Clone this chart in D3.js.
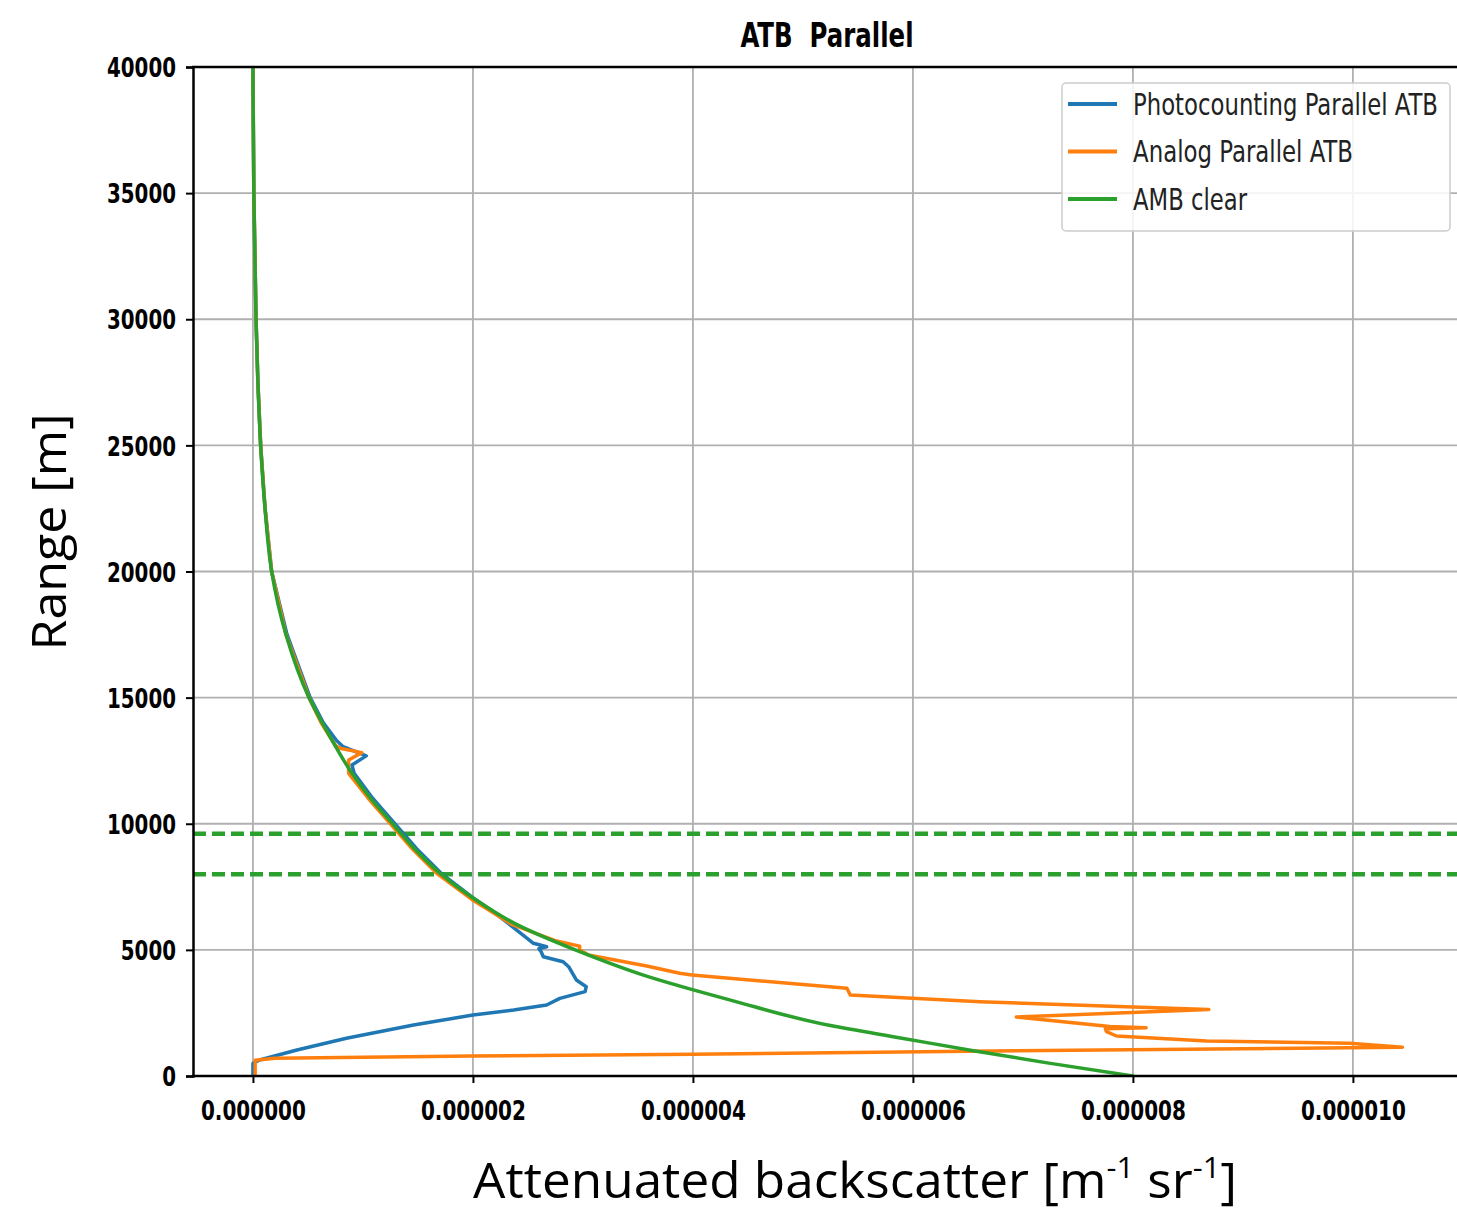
<!DOCTYPE html>
<html>
<head>
<meta charset="utf-8">
<script src="https://cdn.jsdelivr.net/npm/d3@7"></script>
<style>
  body { margin: 0; background: #fff; }
  svg { display: block; }
</style>
</head>
<body>
<div id="chart"></div>
<script>
// values are in units of 1e-6 m-1 sr-1, ranges in metres
const xTicks = [0, 2, 4, 6, 8, 10];
const yTicks = [0, 5000, 10000, 15000, 20000, 25000, 30000, 35000, 40000];
const cloudLayers = [8000, 9600];

const ambRange = [0, 500, 1000, 1500, 2000, 3000, 4000, 5000, 6000, 7000, 8000, 9000, 10000, 11000, 12000, 13000, 14000, 15000, 17500, 20000, 22500, 25000, 27500, 30000, 35000, 40000];
const ambValue = [8.0, 7.25, 6.55, 5.9, 5.25, 4.35, 3.55, 2.93, 2.40, 2.02, 1.71, 1.47, 1.27, 1.07, 0.90, 0.76, 0.63, 0.51, 0.30, 0.17, 0.11, 0.07, 0.045, 0.028, 0.008, 0.0];

const pcRange = [0, 500, 634, 1031, 1494, 2022, 2418, 2617, 2815, 3079, 3343, 3541, 3806, 4333, 4531, 4730, 4928, 5050, 5126, 5261, 5600, 6400, 7100, 8000, 9000, 10000, 11000, 12000, 12330, 12690, 13055, 13300, 14000, 15000, 17500, 20000, 22500, 25000, 27500, 30000, 35000, 40000];
const pcValue = [0.0, 0.0, 0.06, 0.40, 0.85, 1.46, 2.00, 2.37, 2.67, 2.79, 3.02, 3.03, 2.94, 2.87, 2.82, 2.64, 2.62, 2.60, 2.67, 2.55, 2.45, 2.22, 1.99, 1.72, 1.49, 1.29, 1.09, 0.92, 0.90, 1.03, 0.82, 0.76, 0.64, 0.52, 0.31, 0.17, 0.11, 0.07, 0.045, 0.028, 0.008, 0.0];

const anRange = [0, 620, 700, 790, 860, 980, 1080, 1138, 1296, 1388, 1586, 1757, 1870, 1917, 1960, 2340, 2640, 2740, 2946, 3211, 3477, 4004, 4071, 4361, 4800, 5000, 5150, 5350, 6000, 7000, 8000, 9000, 10000, 11000, 12000, 12527, 12820, 12990, 13100, 14000, 15000, 17500, 20000, 22500, 25000, 27500, 30000, 35000, 40000];
const anValue = [0.02, 0.02, 0.2, 2.0, 4.0, 6.5, 9.0, 10.45, 9.97, 8.67, 7.85, 7.76, 7.75, 8.12, 7.79, 6.94, 8.69, 8.0, 6.61, 5.43, 5.40, 3.99, 3.88, 3.58, 3.05, 2.97, 2.97, 2.76, 2.36, 1.99, 1.68, 1.45, 1.25, 1.05, 0.87, 0.87, 0.99, 0.79, 0.75, 0.62, 0.51, 0.30, 0.17, 0.11, 0.07, 0.045, 0.028, 0.008, 0.0];

const seriesNames = ["Photocounting Parallel ATB", "Analog Parallel ATB", "AMB clear"];
const seriesColors = ["#1f77b4", "#ff7f0e", "#2ca02c"];

const W = 1457, H = 1209;
const svg = d3.select("#chart").append("svg").attr("width", W).attr("height", H);

const x = d3.scaleLinear().domain([-0.545e-6, 11.11e-6]).range([193, 1475]);
const y = d3.scaleLinear().domain([0, 40000]).range([1076, 67]);

const tickFont = "'DejaVu Sans Condensed', 'DejaVu Sans', sans-serif";

svg.append("defs").append("clipPath").attr("id", "plot")
  .append("rect").attr("x", 193).attr("y", 67).attr("width", 1300).attr("height", 1009);

// grid
const grid = svg.append("g").attr("stroke", "#b0b0b0").attr("stroke-width", 1.8);
grid.selectAll(".gx").data(xTicks).join("line")
  .attr("x1", d => x(d * 1e-6)).attr("x2", d => x(d * 1e-6))
  .attr("y1", y(40000)).attr("y2", y(0));
grid.selectAll(".gy").data(yTicks).join("line")
  .attr("x1", 193).attr("x2", W)
  .attr("y1", d => y(d)).attr("y2", d => y(d));

// cloud layer markers
svg.append("g").selectAll("line").data(cloudLayers).join("line")
  .attr("x1", 193).attr("x2", W)
  .attr("y1", d => y(d)).attr("y2", d => y(d))
  .attr("stroke", "#2ca02c").attr("stroke-width", 4.5)
  .attr("stroke-dasharray", "13,6");

// curves
const toPts = (r, v) => r.map((d, i) => [v[i] * 1e-6, d]);
const lineGen = d3.line().x(d => x(d[0])).y(d => y(d[1]));
const smooth = d3.line().x(d => x(d[0])).y(d => y(d[1])).curve(d3.curveMonotoneY);
const plot = svg.append("g").attr("clip-path", "url(#plot)")
  .attr("fill", "none").attr("stroke-width", 3.5).attr("stroke-linejoin", "round").attr("stroke-linecap", "round");
plot.append("path").attr("d", lineGen(toPts(pcRange, pcValue))).attr("stroke", seriesColors[0]);
plot.append("path").attr("d", lineGen(toPts(anRange, anValue))).attr("stroke", seriesColors[1]);
plot.append("path").attr("d", smooth(toPts(ambRange, ambValue))).attr("stroke", seriesColors[2]);

// axes
const yAxis = svg.append("g").attr("transform", "translate(193,0)")
  .call(d3.axisLeft(y).tickValues(yTicks).tickSize(7).tickFormat(d3.format("d")));
yAxis.select(".domain").attr("stroke", "#000").attr("stroke-width", 2.5);
yAxis.selectAll(".tick line").attr("stroke", "#000").attr("stroke-width", 2);
yAxis.selectAll(".tick text")
  .attr("x", -17).attr("dy", "0.36em")
  .attr("font-family", tickFont).attr("font-weight", "bold").attr("font-size", 27).attr("fill", "#000")
  .attr("textLength", function() { return this.textContent.length * 13.8; })
  .attr("lengthAdjust", "spacingAndGlyphs");

const xAxis = svg.append("g").attr("transform", "translate(0,1076)")
  .call(d3.axisBottom(x).tickValues(xTicks.map(d => d * 1e-6)).tickSize(7).tickFormat(d3.format(".6f")));
xAxis.select(".domain").remove();
xAxis.selectAll(".tick line").attr("stroke", "#000").attr("stroke-width", 2);
xAxis.selectAll(".tick text")
  .attr("y", 34).attr("dy", "0.36em")
  .attr("font-family", tickFont).attr("font-weight", "bold").attr("font-size", 27).attr("fill", "#000")
  .attr("textLength", 105).attr("lengthAdjust", "spacingAndGlyphs");

// spines
svg.append("line").attr("x1", 192).attr("x2", W).attr("y1", 1076).attr("y2", 1076)
  .attr("stroke", "#000").attr("stroke-width", 2.5);
svg.append("line").attr("x1", 192).attr("x2", W).attr("y1", 67).attr("y2", 67)
  .attr("stroke", "#000").attr("stroke-width", 2.5);

// title
svg.append("text").attr("x", 827).attr("y", 47).attr("text-anchor", "middle")
  .style("white-space", "pre")
  .attr("font-family", tickFont).attr("font-weight", "bold").attr("font-size", 33)
  .attr("textLength", 173).attr("lengthAdjust", "spacingAndGlyphs")
  .text("ATB  Parallel");

// legend
const leg = svg.append("g");
leg.append("rect").attr("x", 1062).attr("y", 83).attr("width", 388).attr("height", 148)
  .attr("rx", 4).attr("fill", "#fff").attr("fill-opacity", 0.85).attr("stroke", "#cccccc").attr("stroke-width", 1.5);
const legW = [305, 220, 114];
seriesNames.forEach((name, i) => {
  const ly = 104 + i * 47.5;
  leg.append("line").attr("x1", 1068).attr("x2", 1117).attr("y1", ly).attr("y2", ly)
    .attr("stroke", seriesColors[i]).attr("stroke-width", 4);
  leg.append("text").attr("x", 1133).attr("y", ly).attr("dy", "0.36em")
    .attr("font-family", tickFont).attr("font-size", 30).attr("fill", "#222")
    .attr("textLength", legW[i]).attr("lengthAdjust", "spacingAndGlyphs")
    .text(name);
});

// axis labels
const labelFont = "'Open Sans', 'Noto Sans', sans-serif";
svg.append("text").attr("transform", "translate(66,532) rotate(-90)")
  .attr("text-anchor", "middle").attr("font-family", labelFont).attr("font-size", 48).attr("fill", "#000")
  .attr("textLength", 237).attr("lengthAdjust", "spacingAndGlyphs")
  .text("Range [m]");

const xl = svg.append("text").attr("x", 473).attr("y", 1198)
  .attr("font-family", labelFont).attr("font-size", 50).attr("fill", "#000")
  .attr("textLength", 764).attr("lengthAdjust", "spacingAndGlyphs");
xl.append("tspan").text("Attenuated backscatter [m");
xl.append("tspan").attr("font-size", 30).attr("dy", -20).text("-1");
xl.append("tspan").attr("font-size", 50).attr("dy", 20).text(" sr");
xl.append("tspan").attr("font-size", 30).attr("dy", -20).text("-1");
xl.append("tspan").attr("font-size", 50).attr("dy", 20).text("]");
</script>
</body>
</html>
